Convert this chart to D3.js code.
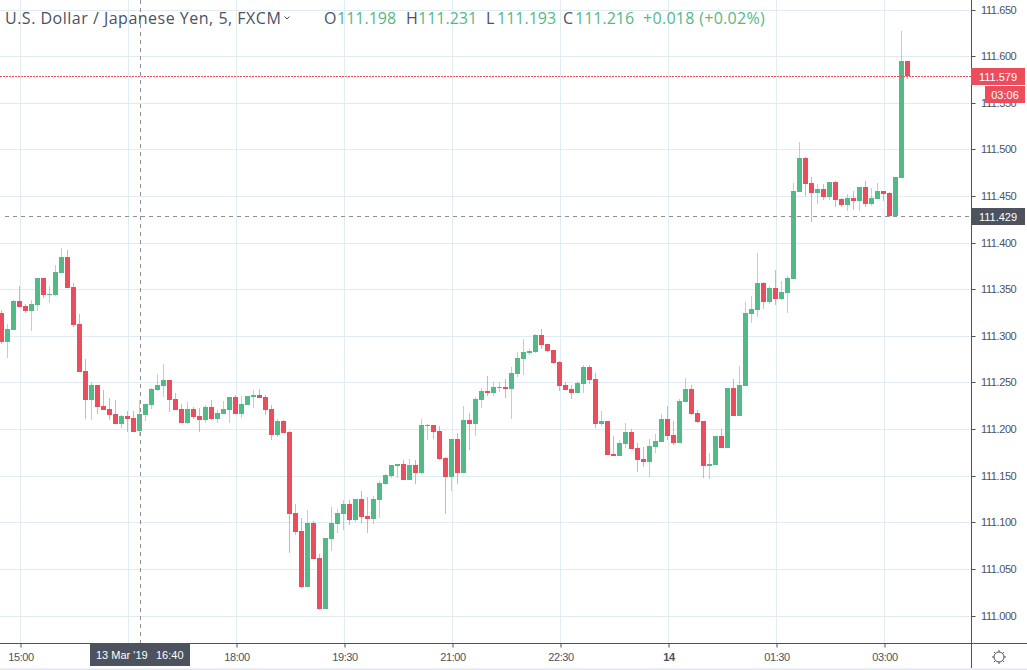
<!DOCTYPE html>
<html>
<head>
<meta charset="utf-8">
<title>USD/JPY 5 min</title>
<script src="https://d3js.org/d3.v7.min.js"></script>
<style>
  html, body { margin: 0; padding: 0; background: #fff; overflow: hidden; }
  svg { display: block; }
  .axis text { font-family: "Liberation Sans", Arial, sans-serif; font-size: 11px; letter-spacing: -0.4px; fill: #4c525e; }
  .legend text { font-family: "Open Sans", sans-serif; font-size: 16px; }
</style>
</head>
<body>
<div id="chart"></div>
<script>
// 5 minute bars, first bar is 14:45 on 13 Mar 2019
var opens = [111.325,111.294,111.307,111.338,111.332,111.327,111.333,111.362,111.344,111.344,111.368,111.385,111.353,111.313,111.263,111.231,111.248,111.225,111.222,111.216,111.206,111.214,111.212,111.198,111.215,111.226,111.242,111.246,111.253,111.233,111.222,111.207,111.222,111.214,111.210,111.224,111.211,111.216,111.221,111.235,111.216,111.226,111.235,111.237,111.235,111.222,111.194,111.209,111.197,111.110,111.091,111.031,111.099,111.062,111.007,111.082,111.098,111.109,111.120,111.103,111.125,111.107,111.104,111.124,111.141,111.150,111.161,111.163,111.146,111.162,111.153,111.204,111.205,111.198,111.169,111.149,111.190,111.153,111.210,111.206,111.231,111.241,111.239,111.244,111.245,111.243,111.259,111.275,111.282,111.283,111.301,111.292,111.285,111.272,111.248,111.243,111.239,111.249,111.267,111.254,111.206,111.209,111.173,111.171,111.184,111.197,111.180,111.168,111.165,111.181,111.186,111.211,111.194,111.185,111.229,111.243,111.218,111.209,111.161,111.162,111.193,111.180,111.244,111.214,111.246,111.324,111.328,111.357,111.337,111.352,111.340,111.346,111.361,111.455,111.491,111.464,111.454,111.458,111.449,111.465,111.447,111.441,111.448,111.445,111.460,111.442,111.447,111.456,111.454,111.429,111.470,111.595];
var highs = [111.328,111.313,111.339,111.354,111.334,111.339,111.362,111.362,111.354,111.376,111.395,111.392,111.357,111.324,111.275,111.251,111.248,111.242,111.234,111.231,111.215,111.220,111.220,111.231,111.227,111.244,111.259,111.270,111.253,111.239,111.227,111.229,111.224,111.223,111.226,111.231,111.221,111.230,111.235,111.237,111.236,111.236,111.242,111.243,111.237,111.226,111.211,111.210,111.198,111.120,111.105,111.113,111.102,111.066,111.083,111.117,111.114,111.124,111.124,111.125,111.134,111.127,111.128,111.145,111.152,111.162,111.163,111.167,111.168,111.167,111.211,111.206,111.205,111.204,111.170,111.190,111.196,111.225,111.218,111.235,111.244,111.257,111.251,111.251,111.254,111.267,111.283,111.297,111.286,111.302,111.308,111.292,111.285,111.273,111.251,111.248,111.252,111.269,111.269,111.260,111.220,111.209,111.193,111.188,111.207,111.200,111.185,111.181,111.190,111.195,111.216,111.225,111.209,111.233,111.255,111.247,111.221,111.209,111.175,111.193,111.200,111.244,111.254,111.268,111.337,111.343,111.389,111.358,111.354,111.371,111.359,111.365,111.464,111.508,111.492,111.471,111.463,111.463,111.465,111.466,111.448,111.453,111.456,111.460,111.466,111.459,111.464,111.456,111.455,111.471,111.627,111.595];
var lows = [111.292,111.277,111.307,111.331,111.325,111.305,111.327,111.341,111.336,111.343,111.368,111.352,111.310,111.261,111.211,111.210,111.216,111.221,111.210,111.206,111.201,111.197,111.197,111.193,111.209,111.222,111.241,111.235,111.219,111.221,111.207,111.206,111.211,111.197,111.207,111.210,111.207,111.216,111.207,111.216,111.212,111.226,111.223,111.234,111.215,111.189,111.192,111.196,111.067,111.087,111.030,111.031,111.061,111.006,111.007,111.069,111.089,111.092,111.097,111.101,111.099,111.089,111.098,111.105,111.140,111.148,111.148,111.146,111.146,111.141,111.152,111.189,111.190,111.167,111.109,111.134,111.141,111.153,111.178,111.193,111.223,111.236,111.236,111.240,111.234,111.211,111.256,111.258,111.280,111.282,111.286,111.283,111.270,111.241,111.242,111.233,111.239,111.239,111.249,111.201,111.204,111.172,111.171,111.171,111.180,111.179,111.154,111.160,111.149,111.175,111.186,111.188,111.183,111.185,111.229,111.215,111.207,111.148,111.147,111.162,111.180,111.180,111.214,111.214,111.246,111.314,111.321,111.329,111.334,111.333,111.339,111.325,111.361,111.455,111.450,111.422,111.442,111.446,111.446,111.439,111.438,111.434,111.435,111.434,111.438,111.440,111.447,111.445,111.428,111.429,111.470,111.576];
var closes = [111.294,111.308,111.338,111.331,111.327,111.334,111.362,111.344,111.345,111.369,111.385,111.352,111.312,111.261,111.231,111.248,111.224,111.221,111.215,111.206,111.214,111.211,111.197,111.216,111.227,111.243,111.248,111.253,111.231,111.221,111.207,111.222,111.213,111.210,111.224,111.211,111.218,111.222,111.235,111.216,111.227,111.236,111.237,111.234,111.221,111.194,111.209,111.196,111.109,111.090,111.031,111.099,111.061,111.007,111.083,111.099,111.110,111.120,111.103,111.125,111.106,111.104,111.125,111.142,111.151,111.162,111.163,111.146,111.162,111.153,111.205,111.205,111.197,111.168,111.149,111.190,111.153,111.210,111.206,111.233,111.241,111.239,111.245,111.245,111.243,111.260,111.277,111.283,111.284,111.301,111.290,111.284,111.271,111.246,111.242,111.239,111.250,111.267,111.253,111.206,111.209,111.172,111.171,111.185,111.197,111.179,111.167,111.165,111.182,111.187,111.211,111.193,111.185,111.230,111.243,111.216,111.208,111.161,111.163,111.193,111.180,111.244,111.214,111.248,111.325,111.329,111.357,111.337,111.352,111.340,111.347,111.362,111.456,111.491,111.463,111.454,111.458,111.449,111.465,111.446,111.441,111.448,111.445,111.460,111.442,111.448,111.456,111.453,111.429,111.471,111.595,111.579];

var priceTicks = [111.000,111.050,111.100,111.150,111.200,111.250,111.300,111.350,111.400,111.450,111.500,111.550,111.600,111.650];
var timeTickBars = [3,21,39,57,75,93,111,129,147];
// 16:30 sits under the crosshair date box, so it has no label
var timeTickLabels = ["15:00","","18:00","19:30","21:00","22:30","14","01:30","03:00"];

var lastPrice = 111.579, crossPrice = 111.429, crossBar = 23;
var legendTitle = "U.S. Dollar / Japanese Yen, 5, FXCM";

var width = 1027, height = 670, axisX = 971.5, axisY = 643.5;
var green = "#53b987", red = "#eb4d5c", textCol = "#4c525e", gridCol = "#e1ecf2", crossCol = "#8a8f98";

var svg = d3.select("#chart").append("svg").attr("width", width).attr("height", height);

var x = d3.scaleLinear().domain([3, 147]).range([20.5, 884.5]);
var y = d3.scaleLinear().domain([111, 111.6]).range([615.7, 56.5]);

// keep lines on whole pixels so they stay sharp
function rowY(p) { return Math.floor(y(p) + 0.3) + 0.5; }

// grid
svg.append("g").selectAll("line").data(priceTicks).enter().append("line")
  .attr("x1", 0).attr("x2", axisX)
  .attr("y1", rowY).attr("y2", rowY)
  .attr("stroke", gridCol);
svg.append("g").selectAll("line").data(timeTickBars).enter().append("line")
  .attr("x1", function(d) { return x(d); }).attr("x2", function(d) { return x(d); })
  .attr("y1", 0).attr("y2", axisY)
  .attr("stroke", gridCol);

// candles
var bars = d3.range(opens.length);
function barColor(i) { return closes[i] >= opens[i] ? green : red; }
function candleX(i) { return x(i) - 1; }

var plot = svg.append("g");
plot.selectAll(".wick").data(bars).enter().append("rect")
  .attr("class", "wick")
  .attr("x", function(i) { return candleX(i) - 0.5; })
  .attr("width", 1)
  .attr("y", function(i) { return Math.round(y(highs[i])); })
  .attr("height", function(i) { return Math.round(y(lows[i])) - Math.round(y(highs[i])); })
  .attr("fill", barColor)
  .attr("fill-opacity", 0.5);
plot.selectAll(".body").data(bars).enter().append("rect")
  .attr("class", "body")
  .attr("x", function(i) { return candleX(i) - 2.5; })
  .attr("width", 5)
  .attr("y", function(i) { return Math.round(y(Math.max(opens[i], closes[i]))); })
  .attr("height", function(i) {
    return Math.max(1, Math.round(y(Math.min(opens[i], closes[i]))) - Math.round(y(Math.max(opens[i], closes[i]))));
  })
  .attr("fill", barColor);

// last price line and crosshair
svg.append("line").attr("x1", 0).attr("x2", axisX).attr("y1", 76.5).attr("y2", 76.5)
  .attr("stroke", red).attr("stroke-dasharray", "2,1");
svg.append("line").attr("x1", 5).attr("x2", axisX).attr("y1", Math.round(y(crossPrice)) + 0.5).attr("y2", Math.round(y(crossPrice)) + 0.5)
  .attr("stroke", crossCol).attr("stroke-dasharray", "4,4");
svg.append("line").attr("x1", x(crossBar)).attr("x2", x(crossBar)).attr("y1", 0).attr("y2", axisY)
  .attr("stroke", crossCol).attr("stroke-dasharray", "4,4");

// white behind the axes
svg.append("rect").attr("x", axisX).attr("y", 0).attr("width", width - axisX).attr("height", height).attr("fill", "#fff");
svg.append("rect").attr("x", 0).attr("y", axisY).attr("width", width).attr("height", height - axisY).attr("fill", "#fff");

// axes
var yAxis = d3.axisRight(y).tickValues(priceTicks).tickFormat(d3.format(".3f")).tickSize(4).tickPadding(5.5);
var gy = svg.append("g").attr("class", "axis").attr("transform", "translate(" + axisX + ",0)").call(yAxis);
gy.select(".domain").remove();
gy.selectAll(".tick").attr("transform", function(d) { return "translate(0," + rowY(d) + ")"; });
gy.selectAll(".tick line").attr("stroke", textCol);

var xAxis = d3.axisBottom(x).tickValues(timeTickBars)
  .tickFormat(function(d, i) { return timeTickLabels[i]; }).tickSize(4).tickPadding(6);
var gx = svg.append("g").attr("class", "axis").attr("transform", "translate(0," + axisY + ")").call(xAxis);
gx.select(".domain").remove();
gx.selectAll(".tick line").attr("stroke", textCol);
gx.selectAll(".tick text").style("font-weight", function(d, i) { return timeTickLabels[i] == "14" ? "bold" : null; });

svg.append("line").attr("x1", 0).attr("x2", width).attr("y1", axisY).attr("y2", axisY).attr("stroke", textCol);
svg.append("line").attr("x1", axisX).attr("x2", axisX).attr("y1", 0).attr("y2", 668).attr("stroke", textCol);
svg.append("rect").attr("x", 0).attr("y", 668.5).attr("width", width).attr("height", 1.5).attr("fill", "#e4e6ee");

// price and time labels on the axes
function axisLabel(px, py, w, h, fill, txt) {
  var g = svg.append("g").attr("class", "axis");
  g.append("rect").attr("x", px).attr("y", py).attr("width", w).attr("height", h).attr("fill", fill);
  return g.append("text").attr("x", px + w / 2).attr("y", py + h / 2 + 4).attr("text-anchor", "middle")
    .style("fill", "#fff").style("letter-spacing", "0").text(txt);
}
axisLabel(971, 68, 54, 17, red, d3.format(".3f")(lastPrice));
axisLabel(985, 86, 40, 17, red, "03:06");
axisLabel(971, 208, 54, 17, textCol, d3.format(".3f")(crossPrice));
axisLabel(90, 644, 100, 22, textCol, "").attr("y", 659);
svg.append("text").attr("class", "crossdate").attr("x", 96).attr("y", 659).text("13 Mar '19");
svg.append("text").attr("class", "crossdate").attr("x", 156).attr("y", 659).text("16:40");
svg.selectAll(".crossdate").attr("fill", "#fff").style("font-family", "Liberation Sans, Arial, sans-serif").style("font-size", "11px");

// legend row
var legend = svg.append("g").attr("class", "legend");
function legendText(px, txt, col) {
  return legend.append("text").attr("x", px).attr("y", 24).attr("fill", col).text(txt);
}
legendText(5, legendTitle, textCol).style("letter-spacing", "0.5px");
legend.append("path").attr("d", "M284.5 16.5l2.5 2.5l2.5-2.5").attr("fill", "none").attr("stroke", textCol);
var f3 = d3.format(".3f");
legendText(324, "O", textCol);
legendText(337, f3(opens[crossBar]), green);
legendText(406, "H", textCol);
legendText(418, f3(highs[crossBar]), green);
legendText(486, "L", textCol);
legendText(497, f3(lows[crossBar]), green);
legendText(563, "C", textCol);
legendText(575, f3(closes[crossBar]), green);
legendText(643, "+0.018 (+0.02%)", green).style("letter-spacing", "0.3px");

// settings gear
var gear = svg.append("g").attr("transform", "translate(999,657)").attr("fill", "none").attr("stroke", textCol);
gear.append("circle").attr("r", 5);
d3.range(8).forEach(function(k) {
  var a = k * Math.PI / 4;
  gear.append("line").attr("x1", 5 * Math.cos(a)).attr("y1", 5 * Math.sin(a))
    .attr("x2", 7 * Math.cos(a)).attr("y2", 7 * Math.sin(a));
});
</script>
</body>
</html>
